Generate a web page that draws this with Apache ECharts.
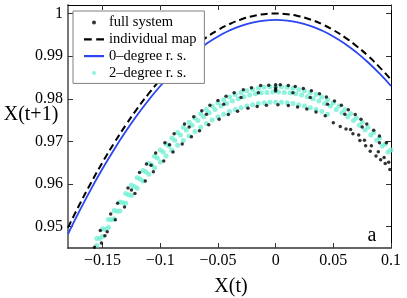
<!DOCTYPE html>
<html><head><meta charset="utf-8">
<script src="https://cdn.jsdelivr.net/npm/echarts@6/dist/echarts.min.js"></script>
<style>html,body{margin:0;padding:0;background:#fff}#c{width:407px;height:298px}</style>
</head><body><div id="c"></div>
<script>
// ---- axis ticks ----
const xTicks = [-0.15, -0.1, -0.05, 0, 0.05, 0.1];
const xTickLabels = ['\u22120.15', '\u22120.1', '\u22120.05', '0', '0.05', '0.1'];
const yTicks = [0.95, 0.96, 0.97, 0.98, 0.99, 1];
const yTickLabels = ['0.95', '0.96', '0.97', '0.98', '0.99', '1'];

// ---- curves ----
const lineX = [-0.18,-0.17,-0.16,-0.15,-0.14,-0.13,-0.12,-0.11,-0.10,-0.09,-0.08,-0.07,-0.06,-0.05,-0.04,-0.03,-0.02,-0.01,0,0.01,0.02,0.03,0.04,0.05,0.06,0.07,0.08,0.09,0.10];
const individualMap = [0.94978,0.9552,0.96032,0.96513,0.96962,0.9738,0.97768,0.98124,0.9845,0.98744,0.99008,0.9924,0.99442,0.99613,0.99752,0.99861,0.99938,0.99985,1,0.99985,0.99938,0.99861,0.99752,0.99613,0.99442,0.9924,0.99008,0.98744,0.9845];
const zeroDegree = [0.94828,0.9537,0.95882,0.96363,0.96812,0.9723,0.97618,0.97974,0.983,0.98594,0.98858,0.9909,0.99292,0.99463,0.99602,0.99711,0.99788,0.99835,0.9985,0.99835,0.99788,0.99711,0.99602,0.99463,0.99292,0.9909,0.98858,0.98594,0.983];

// ---- 2-degree r. s. (cyan points) ----
const rs2Upper = [[-0.155,0.9472],[-0.15,0.9495],[-0.145,0.9517],[-0.14,0.9538],[-0.135,0.9558],[-0.13,0.9578],[-0.125,0.9597],[-0.12,0.9615],[-0.115,0.9632],[-0.11,0.9649],[-0.105,0.9665],[-0.1,0.968],[-0.095,0.9694],[-0.09,0.9708],[-0.085,0.9721],[-0.08,0.9733],[-0.075,0.9745],[-0.07,0.9755],[-0.065,0.9765],[-0.06,0.9775],[-0.055,0.9783],[-0.05,0.9791],[-0.045,0.9798],[-0.04,0.9804],[-0.035,0.981],[-0.03,0.9815],[-0.025,0.9819],[-0.02,0.9822],[-0.015,0.9825],[-0.01,0.9827],[-0.005,0.9828],[0,0.9828],[0.005,0.9828],[0.01,0.9827],[0.015,0.9825],[0.02,0.9822],[0.025,0.9819],[0.03,0.9815],[0.035,0.981],[0.04,0.9804],[0.045,0.9798],[0.05,0.9791],[0.055,0.9783],[0.06,0.9775],[0.065,0.9765],[0.07,0.9755],[0.075,0.9745],[0.08,0.9733],[0.085,0.9721],[0.09,0.9708],[0.095,0.9694],[0.1,0.968]];
const rs2Middle = [[-0.1525,0.9472],[-0.1475,0.9494],[-0.1425,0.9516],[-0.1375,0.9536],[-0.1325,0.9556],[-0.1275,0.9575],[-0.1225,0.9594],[-0.1175,0.9612],[-0.1125,0.9629],[-0.1075,0.9645],[-0.1025,0.9661],[-0.0975,0.9675],[-0.0925,0.9689],[-0.0875,0.9703],[-0.0825,0.9715],[-0.0775,0.9727],[-0.0725,0.9738],[-0.0675,0.9749],[-0.0625,0.9758],[-0.0575,0.9767],[-0.0525,0.9775],[-0.0475,0.9783],[-0.0425,0.9789],[-0.0375,0.9795],[-0.0325,0.98],[-0.0275,0.9805],[-0.0225,0.9809],[-0.0175,0.9812],[-0.0125,0.9814],[-0.0075,0.9815],[-0.0025,0.9816],[0.0025,0.9816],[0.0075,0.9815],[0.0125,0.9814],[0.0175,0.9812],[0.0225,0.9809],[0.0275,0.9805],[0.0325,0.98],[0.0375,0.9795],[0.0425,0.9789],[0.0475,0.9783],[0.0525,0.9775],[0.0575,0.9767],[0.0625,0.9758],[0.0675,0.9749],[0.0725,0.9738],[0.0775,0.9727],[0.0825,0.9715],[0.0875,0.9703],[0.0925,0.9689],[0.0975,0.9675]];
const rs2Lower = [[-0.16,0.9434],[-0.155,0.9456],[-0.15,0.9477],[-0.145,0.9498],[-0.14,0.9518],[-0.135,0.9537],[-0.13,0.9555],[-0.125,0.9573],[-0.12,0.959],[-0.115,0.9607],[-0.11,0.9623],[-0.105,0.9638],[-0.1,0.9652],[-0.095,0.9666],[-0.09,0.9679],[-0.085,0.9691],[-0.08,0.9702],[-0.075,0.9713],[-0.07,0.9723],[-0.065,0.9733],[-0.06,0.9742],[-0.055,0.975],[-0.05,0.9757],[-0.045,0.9764],[-0.04,0.977],[-0.035,0.9775],[-0.03,0.9779],[-0.025,0.9783],[-0.02,0.9786],[-0.015,0.9789],[-0.01,0.9791],[-0.005,0.9792],[0,0.9792],[0.005,0.9792],[0.01,0.9791],[0.015,0.9789],[0.02,0.9786],[0.025,0.9783],[0.03,0.9779],[0.035,0.9775],[0.04,0.977],[0.045,0.9764]];

// ---- full system (black points) ----
const fullUpperEdge = [[-0.152,0.9491],[-0.143,0.953],[-0.137,0.9555],[-0.128,0.9591],[-0.118,0.9627],[-0.112,0.9647],[-0.104,0.9673],[-0.096,0.9697],[-0.088,0.9718],[-0.079,0.9741],[-0.071,0.9758],[-0.064,0.9772],[-0.057,0.9785],[-0.05,0.9796],[-0.043,0.9806],[-0.036,0.9814],[-0.028,0.9821],[-0.021,0.9826],[-0.013,0.9831],[-0.006,0.9832],[0,0.9833],[0.004,0.9833],[0.011,0.9831],[0.017,0.9829],[0.024,0.9824],[0.031,0.9819],[0.038,0.9812],[0.044,0.9804],[0.051,0.9795],[0.057,0.9785],[0.063,0.9774],[0.069,0.9763],[0.074,0.9752],[0.079,0.9741],[0.085,0.9726],[0.09,0.9713],[0.096,0.9697]];
const fullUpperInner = [[-0.125,0.9586],[-0.108,0.9644],[-0.092,0.9692],[-0.075,0.9734],[-0.06,0.9764],[-0.045,0.9787],[-0.03,0.9803],[-0.015,0.9814],[0,0.9818],[0,0.9822],[0,0.9826],[0.015,0.9814],[0.03,0.9803],[0.045,0.9787],[0.06,0.9764],[0.075,0.9734],[0.09,0.9697]];
const fullLower = [[-0.157,0.9452],[-0.151,0.9462],[-0.146,0.9488],[-0.148,0.9479],[-0.139,0.9516],[-0.131,0.9546],[-0.122,0.9578],[-0.113,0.9607],[-0.106,0.9629],[-0.097,0.9654],[-0.089,0.9675],[-0.081,0.9694],[-0.073,0.9711],[-0.066,0.9725],[-0.058,0.9739],[-0.049,0.9752],[-0.041,0.9763],[-0.033,0.9771],[-0.024,0.9778],[-0.016,0.9782],[-0.008,0.9785],[0.002,0.9786],[0.011,0.9784],[0.019,0.9781],[0.027,0.9776],[0.035,0.9769],[0.043,0.976]];
const fullTail = [[0.05,0.9744],[0.056,0.9735],[0.061,0.9729],[0.067,0.9718],[0.073,0.9702],[0.078,0.969],[0.082,0.9677],[0.087,0.9666],[0.091,0.9657],[0.095,0.9648],[0.099,0.9634],[0.065,0.9728],[0.072,0.9715],[0.077,0.9703],[0.083,0.969],[0.089,0.9676],[0.094,0.9662],[0.098,0.9651]];

const F = '"Liberation Serif", "Times New Roman", serif';
const lookup = (ticks, labels) => v => {
  const i = ticks.findIndex(t => Math.abs(t - v) < 1e-9);
  return i >= 0 ? labels[i] : '';
};
const zip = (xs, ys) => xs.map((x, i) => [x, ys[i]]);

const chart = echarts.init(document.getElementById('c'), null, {renderer: 'canvas'});
const baseX = {type: 'value', min: -0.18, max: 0.1, splitLine: {show: false}};
const baseY = {type: 'value', min: 0.945, max: 1.002, splitLine: {show: false}};
chart.setOption({
  animation: false,
  backgroundColor: '#fff',
  grid: {left: 68, right: 16, top: 5, bottom: 50},
  xAxis: [
    Object.assign({}, baseX, {
      position: 'bottom',
      axisLine: {show: true, onZero: false, lineStyle: {color: '#333', width: 1.5}},
      axisTick: {show: true, inside: true, length: 5, customValues: xTicks, lineStyle: {color: '#333'}},
      axisLabel: {show: true, customValues: xTicks, formatter: lookup(xTicks, xTickLabels), margin: 5, fontSize: 16, fontFamily: F, color: '#000'}
    }),
    Object.assign({}, baseX, {
      position: 'top',
      axisLine: {show: true, onZero: false, lineStyle: {color: '#000', width: 1}},
      axisTick: {show: true, inside: true, length: 5, customValues: xTicks, lineStyle: {color: '#333'}},
      axisLabel: {show: false}
    })
  ],
  yAxis: [
    Object.assign({}, baseY, {
      position: 'left',
      axisLine: {show: true, onZero: false, lineStyle: {color: '#777', width: 2}},
      axisTick: {show: true, inside: true, length: 5, customValues: yTicks, lineStyle: {color: '#333'}},
      axisLabel: {show: true, customValues: yTicks, formatter: lookup(yTicks, yTickLabels), margin: 5, fontSize: 16, fontFamily: F, color: '#000'}
    }),
    Object.assign({}, baseY, {
      position: 'right',
      axisLine: {show: true, onZero: false, lineStyle: {color: '#000', width: 1}},
      axisTick: {show: true, inside: true, length: 5, customValues: yTicks, lineStyle: {color: '#333'}},
      axisLabel: {show: false}
    })
  ],
  legend: {
    orient: 'vertical', left: 73, top: 11,
    padding: [4, 8, 3, 11], itemGap: 1.8, itemWidth: 20, itemHeight: 4,
    backgroundColor: '#fff', borderColor: '#808080', borderWidth: 1, borderRadius: 0,
    textStyle: {fontFamily: F, fontSize: 14.5, color: '#000'},
    selectedMode: false,
    data: [
      {name: 'full system', icon: 'circle'},
      {name: 'individual map', icon: 'path://M0,0 H7 V2 H0 Z M11,0 H18 V2 H11 Z'},
      {name: '0\u2013degree r. s.', icon: 'path://M0,0 H18 V2 H0 Z'},
      {name: '2\u2013degree r. s.', icon: 'circle'}
    ]
  },
  graphic: [
    {type: 'text', x: 31, y: 115, style: {text: 'X(t+1)', fontFamily: F, fontSize: 20, fill: '#000', align: 'center', verticalAlign: 'middle'}},
    {type: 'text', x: 231, y: 287, style: {text: 'X(t)', fontFamily: F, fontSize: 20, fill: '#000', align: 'center', verticalAlign: 'middle'}},
    {type: 'text', x: 372, y: 236, style: {text: 'a', fontFamily: F, fontSize: 20, fill: '#000', align: 'center', verticalAlign: 'middle'}}
  ],
  series: [
    {name: 'individual map', type: 'line', symbol: 'none', showSymbol: false, smooth: true, data: zip(lineX, individualMap),
      lineStyle: {color: '#000', width: 2, type: [7, 4]}, itemStyle: {color: '#000'}, z: 3},
    {name: '0\u2013degree r. s.', type: 'line', symbol: 'none', showSymbol: false, smooth: true, data: zip(lineX, zeroDegree),
      lineStyle: {color: '#2b45f2', width: 1.8}, itemStyle: {color: '#2b45f2'}, z: 3},
    {name: '2\u2013degree r. s.', type: 'scatter', symbol: 'circle', symbolSize: 5,
      data: rs2Upper.concat(rs2Middle, rs2Lower), itemStyle: {color: '#72efd5'}, z: 4},
    {name: 'full system', type: 'scatter', symbol: 'circle', symbolSize: 3.5,
      data: fullUpperEdge.concat(fullUpperInner, fullLower, fullTail), itemStyle: {color: '#000'}, z: 5}
  ]
});
</script></body></html>
